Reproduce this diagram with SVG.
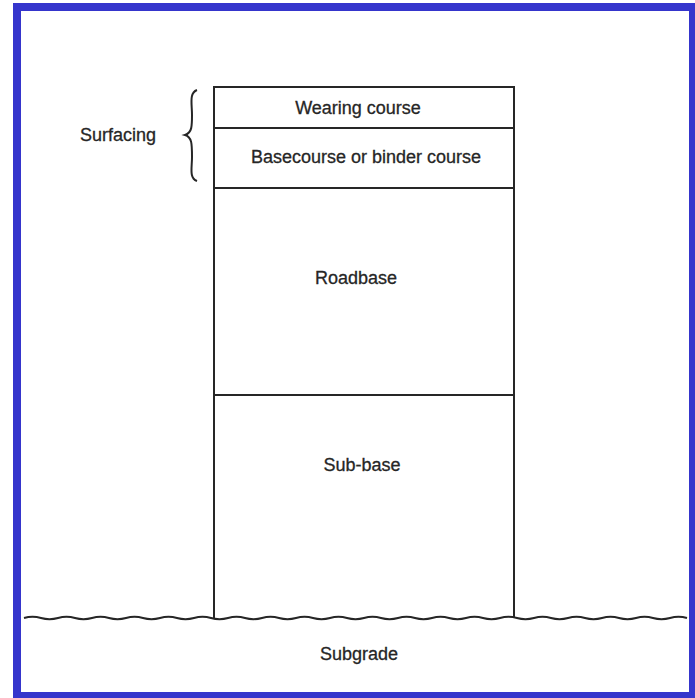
<svg xmlns="http://www.w3.org/2000/svg" width="695" height="698" viewBox="0 0 695 698">
<style>
.ln{fill:none;stroke:#262626;stroke-width:2}
.lbl{font-family:"Liberation Sans",Arial,sans-serif;font-size:18px;fill:#262626;stroke:#262626;stroke-width:0.3}
.c{text-anchor:middle}
</style>
<rect x="0" y="0" width="695" height="698" fill="#ffffff"/>
<rect x="17" y="7" width="676" height="689" fill="none" stroke="#3535cc" stroke-width="8"/>
<g id="connectors">
<path class="ln" stroke-width="2.4" d="M24,618 q8.5,-2.4 17,0 t17,0 t17,0 t17,0 t17,0 t17,0 t17,0 t17,0 t17,0 t17,0 t17,0 t17,0 t17,0 t17,0 t17,0 t17,0 t17,0 t17,0 t17,0 t17,0 t17,0 t17,0 t17,0 t17,0 t17,0 t17,0 t17,0 t17,0 t17,0 t17,0 t17,0 t17,0 t17,0 t17,0 t17,0 t17,0 t17,0 t17,0 t17,0"/>
<path class="ln" stroke-width="2.6" d="M197,90 C189,93 192,104 192,115 C192,126 192,133 185,135 C192,137 192,144 192,157 C192,168 189,178 197,181"/>
</g>
<g id="wearing-course">
<path class="ln" d="M214,618 V87 H514 V618"/>
<text class="lbl c" x="358" y="114">Wearing course</text>
</g>
<g id="basecourse">
<line class="ln" x1="214" y1="128" x2="514" y2="128"/>
<text class="lbl c" x="366" y="163">Basecourse or binder course</text>
</g>
<g id="roadbase">
<line class="ln" x1="214" y1="188" x2="514" y2="188"/>
<text class="lbl c" x="356" y="284">Roadbase</text>
</g>
<g id="sub-base">
<line class="ln" x1="214" y1="395" x2="514" y2="395"/>
<text class="lbl c" x="362" y="471">Sub-base</text>
</g>
<g id="subgrade">
<text class="lbl c" x="359" y="660">Subgrade</text>
</g>
<g id="surfacing">
<text class="lbl" x="80" y="141">Surfacing</text>
</g>
</svg>
